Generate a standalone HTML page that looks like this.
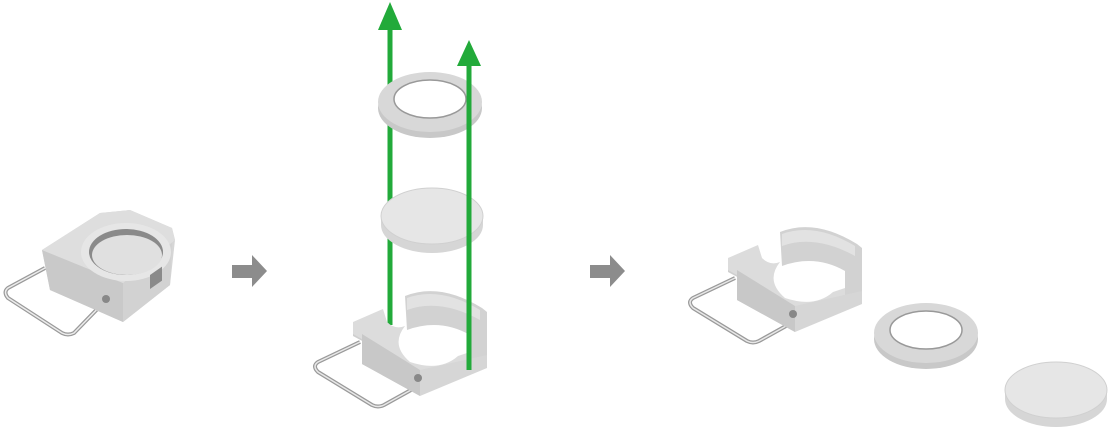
<!DOCTYPE html>
<html><head><meta charset="utf-8"><style>html,body{margin:0;padding:0;background:#fff;width:1111px;height:435px;overflow:hidden}</style></head>
<body>
<svg width="1111" height="435" viewBox="0 0 1111 435" xmlns="http://www.w3.org/2000/svg">
<defs>
<g id="holder">
  <path d="M360,342 L318,362 Q312,366 318,372 L372,405 Q378,408 384,405 L420,385" fill="none" stroke="#9a9a9a" stroke-width="4" stroke-linejoin="round"/>
  <path d="M360,342 L318,362 Q312,366 318,372 L372,405 Q378,408 384,405 L420,385" fill="none" stroke="#e8e8e8" stroke-width="1.5"/>
  <path d="M405,296 Q440,282 482,308 L487,312 L487,366 L470,372 L470,335 Q440,318 407,330 Z" fill="#d2d2d2"/>
  <path d="M407,298 Q440,286 480,310 L480,320 Q440,298 407,310 Z" fill="#e2e2e2"/>
  <path d="M353,326 L362,332 L362,364 L420,396 L420,372 L353,336 Z" fill="#cfcfcf"/>
  <path d="M353,322 L383,309 L387,322 Q395,330 405,326 Q390,345 410,362 Q440,372 458,356 L470,352 L470,366 L487,360 L420,372 L353,334 Z" fill="#dcdcdc"/>
  <ellipse cx="430" cy="343" rx="30" ry="17" fill="#fff"/>
  <path d="M362,334 L420,370 L420,396 L362,364 Z" fill="#c8c8c8"/>
  <path d="M420,370 L487,355 L487,368 L420,396 Z" fill="#d6d6d6"/>
  <circle cx="418" cy="378" r="4" fill="#888"/>
</g>
<g id="ringShape">
  <ellipse cx="0" cy="6" rx="52" ry="30" fill="#c8c8c8"/>
  <ellipse cx="0" cy="0" rx="52" ry="30" fill="#d8d8d8"/>
  <ellipse cx="0" cy="-3" rx="36" ry="19" fill="#fff" stroke="#999" stroke-width="1.5"/>
</g>
<g id="lensShape">
  <path d="M-51,0 L-51,9 A51,28 0 0 0 51,9 L51,0 Z" fill="#d6d6d6"/>
  <ellipse cx="0" cy="0" rx="51" ry="28" fill="#e6e6e6" stroke="#d0d0d0"/>
</g>
</defs>

<path d="M45,268 L8,288 Q3,292 8,298 L62,333 Q68,336 74,333 L108,298" fill="none" stroke="#9a9a9a" stroke-width="4" stroke-linejoin="round"/>
<path d="M45,268 L8,288 Q3,292 8,298 L62,333 Q68,336 74,333 L108,298" fill="none" stroke="#ececec" stroke-width="1.5"/>
<path d="M42,250 L100,213 L130,210 L172,228 L175,240 L170,285 L123,322 L50,290 Z" fill="#d6d6d6"/>
<path d="M42,250 L123,283 L123,322 L50,290 Z" fill="#c9c9c9"/>
<path d="M123,283 L172,242 L170,285 L123,322 Z" fill="#d2d2d2"/>
<path d="M42,250 L100,213 L130,210 L172,228 L175,240 L123,283 Z" fill="#dedede"/>
<ellipse cx="126" cy="252" rx="45" ry="29" fill="#e6e6e6"/>
<ellipse cx="126" cy="252" rx="37" ry="23" fill="#8a8a8a"/>
<ellipse cx="127" cy="255" rx="35" ry="20" fill="#e0e0e0"/>
<rect x="150" y="275" width="12" height="14" fill="#8a8a8a" transform="skewY(-35) translate(0,105)"/>
<circle cx="106" cy="299" r="4" fill="#888"/>

<path d="M232,265 L252,265 L252,255 L267,271 L252,287 L252,278 L232,278 Z" fill="#8c8c8c"/>
<path d="M590,265 L610,265 L610,255 L625,271 L610,287 L610,278 L590,278 Z" fill="#8c8c8c"/>

<line x1="390" y1="325" x2="390" y2="25" stroke="#22aa3a" stroke-width="5"/>
<polygon points="390,2 378,30 402,30" fill="#22aa3a"/>
<use href="#holder"/>
<g transform="translate(430,102)"><use href="#ringShape"/></g>
<g transform="translate(432,216)"><use href="#lensShape"/></g>
<line x1="469" y1="370" x2="469" y2="60" stroke="#22aa3a" stroke-width="5"/>
<polygon points="469,40 457,66 481,66" fill="#22aa3a"/>

<g transform="translate(375,-64)"><use href="#holder"/></g>
<g transform="translate(926,333)"><use href="#ringShape"/></g>
<g transform="translate(1056,390)"><use href="#lensShape"/></g>
</svg>
</body></html>
